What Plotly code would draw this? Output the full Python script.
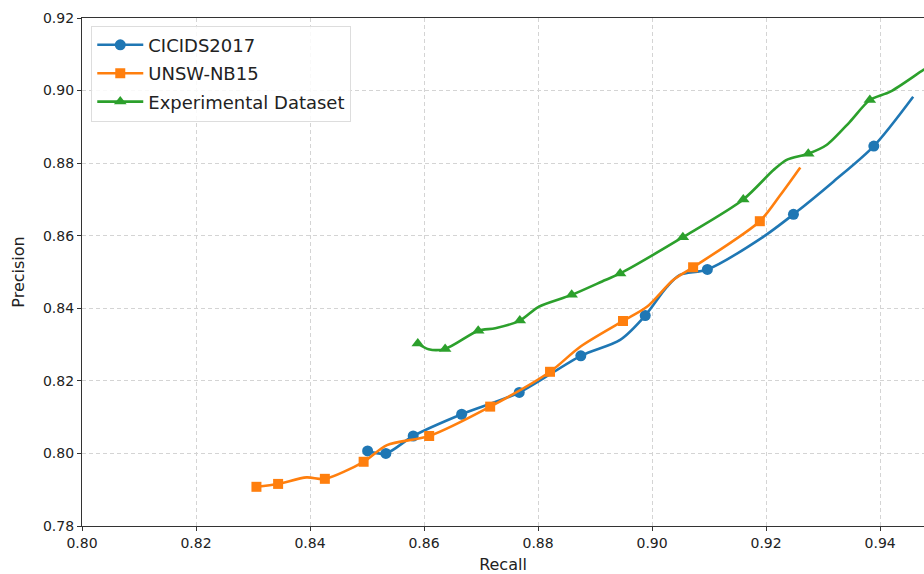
import plotly.graph_objects as go

# ---------------- data ----------------
series_names = ["CICIDS2017", "UNSW-NB15", "Experimental Dataset"]

# marked points
cicids_recall = [0.8501, 0.8533, 0.8581, 0.8666, 0.8767, 0.8875, 0.8988, 0.9097, 0.9248, 0.9389]
cicids_precision = [0.8007, 0.8000, 0.8048, 0.8108, 0.8168, 0.8269, 0.8380, 0.8507, 0.8659, 0.8847]
# extra points along the smoothed curve (no marker)
cicids_curve_recall = [0.8944, 0.9026, 0.9049, 0.9195, 0.9318, 0.9458]
cicids_curve_precision = [0.8313, 0.8459, 0.8492, 0.8597, 0.8749, 0.8983]

unsw_recall = [0.8306, 0.8344, 0.8426, 0.8494, 0.8609, 0.8716, 0.8821, 0.8949, 0.9072, 0.9189]
unsw_precision = [0.7908, 0.7916, 0.7930, 0.7977, 0.8048, 0.8129, 0.8225, 0.8365, 0.8513, 0.8640]
unsw_curve_recall = [0.8394, 0.8535, 0.8874, 0.8991, 0.9037, 0.9225, 0.9260]
unsw_curve_precision = [0.7934, 0.8023, 0.8294, 0.8404, 0.8478, 0.8712, 0.8788]

exp_recall = [0.8589, 0.8637, 0.8695, 0.8768, 0.8859, 0.8944, 0.9054, 0.9160, 0.9274, 0.9382]
exp_precision = [0.8303, 0.8288, 0.8338, 0.8366, 0.8437, 0.8496, 0.8596, 0.8700, 0.8826, 0.8974]
exp_curve_recall = [0.8608, 0.8725, 0.8801, 0.8918, 0.9213, 0.9236, 0.9306, 0.9347, 0.9418, 0.9476, 0.9490]
exp_curve_precision = [0.8287, 0.8345, 0.8404, 0.8478, 0.8781, 0.8809, 0.8850, 0.8914, 0.8997, 0.9057, 0.9070]

x_ticks = [0.80, 0.82, 0.84, 0.86, 0.88, 0.90, 0.92, 0.94]
y_ticks = [0.78, 0.80, 0.82, 0.84, 0.86, 0.88, 0.90, 0.92]

colors = ["#1f77b4", "#ff7f0e", "#2ca02c"]
symbols = ["circle", "square", "triangle-up"]
msizes = [11, 10, 11]

series = [
    (cicids_recall, cicids_precision, cicids_curve_recall, cicids_curve_precision),
    (unsw_recall, unsw_precision, unsw_curve_recall, unsw_curve_precision),
    (exp_recall, exp_precision, exp_curve_recall, exp_curve_precision),
]

FONT = "DejaVu Sans"
fig = go.Figure()

for name, (mx, my, cx, cy), col, sym, ms in zip(series_names, series, colors, symbols, msizes):
    pts = sorted(list(zip(mx, my)) + list(zip(cx, cy)))
    fig.add_trace(go.Scatter(
        x=[p[0] for p in pts], y=[p[1] for p in pts], mode="lines",
        line=dict(color=col, width=2.6, shape="spline", smoothing=0.8),
        showlegend=False, hoverinfo="skip"))
    fig.add_trace(go.Scatter(
        x=mx, y=my, mode="markers",
        marker=dict(color=col, symbol=sym, size=ms, line=dict(width=0)),
        showlegend=False, cliponaxis=False))
    # legend entry
    fig.add_trace(go.Scatter(
        x=[None], y=[None], mode="lines+markers", name=name, legendgroup=name,
        line=dict(color=col, width=2.6),
        marker=dict(color=col, symbol=sym, size=ms)))

fig.update_layout(
    width=924, height=574,
    margin=dict(l=82, r=0, t=18, b=48),
    paper_bgcolor="white", plot_bgcolor="white",
    font=dict(family=FONT, size=14, color="#222222"),
    showlegend=True,
    legend=dict(
        x=0.011, y=0.985, xanchor="left", yanchor="top",
        bgcolor="rgba(255,255,255,0.85)", bordercolor="#dddddd", borderwidth=1,
        font=dict(family=FONT, size=18, color="#222222"),
        itemwidth=46, tracegroupgap=2, traceorder="grouped",
    ),
    xaxis=dict(
        range=[0.80, 0.9477], tickvals=x_ticks, ticktext=[f"{v:.2f}" for v in x_ticks],
        showgrid=True, gridcolor="#d4d4d4", griddash="4px,3px", gridwidth=1,
        showline=True, linecolor="#333333", linewidth=1.3, mirror=True,
        ticks="outside", ticklen=4, tickcolor="#333333",
        title=dict(text="Recall", font=dict(family=FONT, size=16), standoff=8),
        zeroline=False,
    ),
    yaxis=dict(
        range=[0.78, 0.92], tickvals=y_ticks, ticktext=[f"{v:.2f}" for v in y_ticks],
        showgrid=True, gridcolor="#d4d4d4", griddash="4px,3px", gridwidth=1,
        showline=True, linecolor="#333333", linewidth=1.3, mirror=False,
        ticks="outside", ticklen=4, tickcolor="#333333",
        title=dict(text="Precision", font=dict(family=FONT, size=16), standoff=14),
        zeroline=False,
    ),
)

fig.write_html("out.html", config={"displayModeBar": False},
               post_script="document.body.style.margin='0px';")
